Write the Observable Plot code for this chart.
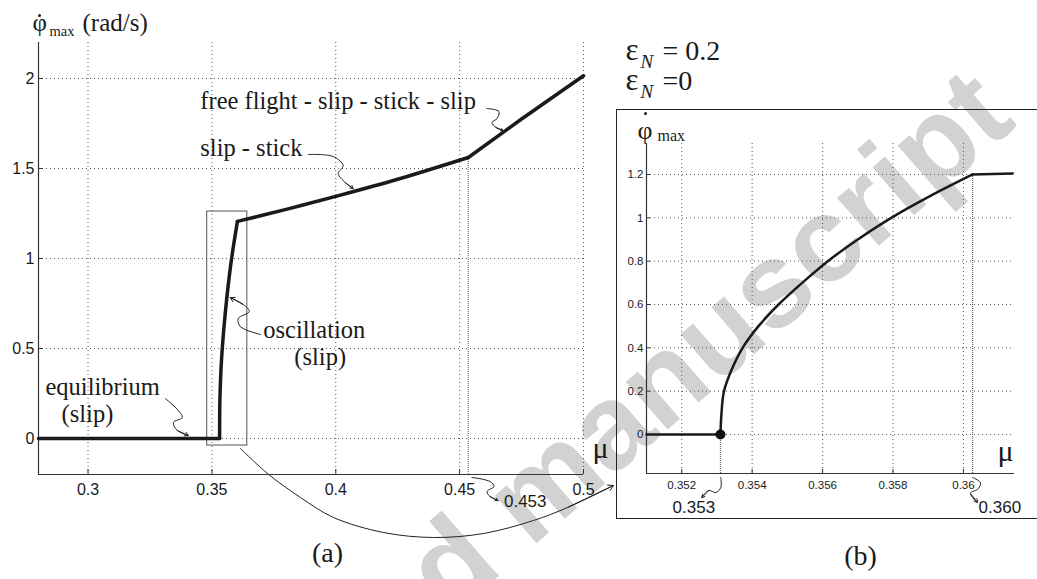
<!DOCTYPE html>
<html><head><meta charset="utf-8">
<script src="https://cdn.jsdelivr.net/npm/d3@7"></script>
<script src="https://cdn.jsdelivr.net/npm/@observablehq/plot@0.6"></script>
<style>
body{margin:0;background:#fff;}
#root{position:relative;width:1037px;height:579px;overflow:hidden;background:#fff;}
#root > svg, #root > div{position:absolute;}
</style></head><body><div id="root"></div>
<script>
// ---------- Panel (a) : phi_dot_max vs mu ----------
const muA  = [0.28, 0.3531, 0.35313, 0.3532, 0.35342, 0.35373, 0.35418, 0.35475, 0.35542, 0.35615, 0.357, 0.35795, 0.35905, 0.3603, 0.38, 0.40, 0.425, 0.4535, 0.475, 0.5];
const phiA = [0, 0, 0.1, 0.2, 0.3, 0.4, 0.5, 0.6, 0.7, 0.8, 0.9, 1.0, 1.1, 1.206, 1.273, 1.345, 1.44, 1.561, 1.775, 2.015];
// regime of each point: equilibrium / oscillation / slip-stick / free flight
const regimeA = ["eq", "eq", "osc", "osc", "osc", "osc", "osc", "osc", "osc", "osc", "osc", "osc", "osc", "osc", "stick", "stick", "stick", "stick", "flight", "flight"];
const xTicksA = [0.3, 0.35, 0.4, 0.45, 0.5];
const xLabelsA = ["0.3", "0.35", "0.4", "0.45", "0.5"];
const yTicksA = [0, 0.5, 1, 1.5, 2];
const yLabelsA = ["0", "0.5", "1", "1.5", "2"];
const markA = 0.4535;          // 0.453 transition
const boxA = {mu1: 0.3481, mu2: 0.3643, phi1: -0.039, phi2: 1.261};

// annotation labels of panel (a): [mu, phi, text]
const labelsStartA = [
  [0.34532, 1.8333, "free flight - slip - stick - slip"],
  [0.34532, 1.5667, "slip - stick"],
  [0.37073, 0.5611, "oscillation"],
  [0.28282, 0.2444, "equilibrium"]
];
const labelsMidA = [
  [0.39371, 0.4056, "(slip)"],
  [0.29976, 0.0889, "(slip)"]
];
// curly leader lines of panel (a): [mu, phi]
const curlFree  = [[0.46105,1.8333],[0.46589,1.8167],[0.46508,1.7778],[0.46306,1.7556],[0.46468,1.7278],[0.4675,1.7111]];
const curlStick = [[0.38887,1.5778],[0.39895,1.5667],[0.40298,1.5167],[0.40097,1.4722],[0.40379,1.4222],[0.40702,1.3889]];
const curlOsc   = [[0.36952,0.5778],[0.36145,0.6222],[0.36065,0.6667],[0.36508,0.7056],[0.36266,0.7444],[0.35742,0.7833]];
const curlEq    = [[0.33121,0.2222],[0.33645,0.1556],[0.33806,0.1167],[0.33444,0.0889],[0.33605,0.0444],[0.34048,0.0167]];
const curl453   = [[0.455,-0.2167],[0.46226,-0.2389],[0.46387,-0.2667],[0.46105,-0.2944],[0.46226,-0.3222],[0.46548,-0.3444]];
const label453  = [0.4679, -0.3833, "0.453"];

// ---------- Panel (b) : zoom of the onset ----------
const muB  = [0.351, 0.3531, 0.35313, 0.3532, 0.35342, 0.35373, 0.35418, 0.35475, 0.35542, 0.35615, 0.357, 0.35795, 0.35905, 0.36026, 0.3614];
const phiB = [0, 0, 0.1, 0.2, 0.3, 0.4, 0.5, 0.6, 0.7, 0.8, 0.9, 1.0, 1.1, 1.2, 1.205];
const regimeB = ["eq", "eq", "osc", "osc", "osc", "osc", "osc", "osc", "osc", "osc", "osc", "osc", "osc", "osc", "stick"];
const xTicksB = [0.352, 0.354, 0.356, 0.358, 0.36];
const xLabelsB = ["0.352", "0.354", "0.356", "0.358", "0.36"];
const yTicksB = [0, 0.2, 0.4, 0.6, 0.8, 1, 1.2];
const yLabelsB = ["0", "0.2", "0.4", "0.6", "0.8", "1", "1.2"];
const onsetB = 0.3531;
const lockB = 0.36026;
const curl353 = [[0.35311,-0.1984],[0.35311,-0.2446],[0.35297,-0.2677],[0.35277,-0.2584],[0.35257,-0.2907]];
const curl360 = [[0.36026,-0.1984],[0.36048,-0.2215],[0.36043,-0.2492],[0.3602,-0.2723],[0.3604,-0.3138]];
const label353 = [0.35174, -0.36, "0.353"];
const label360 = [0.36043, -0.36, "0.360"];

// ---------- figure-level decorations (pixel space) ----------
const arcPx = [[240,448],[267,473],[300,497],[333,517],[383,532],[433,537],[483,533],[533,520],[567,507],[613,485]];
const watermark = "Accepted manuscript";

const SANS = "'Liberation Sans', Arial, Helvetica, sans-serif";
const SERIF = "'Liberation Serif', 'Times New Roman', Times, serif";
const INK = "#1a1a1a";
const GRID = {stroke: "#555", strokeOpacity: 1, strokeWidth: 1, strokeDasharray: "1,3"};

function curl(pts, stroke = "#222") {
  const n = pts.length;
  return [
    Plot.line(pts, {x: d => d[0], y: d => d[1], curve: "catmull-rom", stroke, strokeWidth: 1}),
    Plot.arrow([0], {x1: () => pts[n-2][0], y1: () => pts[n-2][1], x2: () => pts[n-1][0], y2: () => pts[n-1][1],
      stroke, strokeWidth: 1, headLength: 8})
  ];
}
function txt(arr, opts) {
  return Plot.text(arr, {x: d => d[0], y: d => d[1], text: d => d[2], lineAnchor: "bottom", fill: INK, ...opts});
}
// split a curve into regime segments that share their end points
function segments(mu, phi, regime) {
  const out = [];
  let cur = null;
  mu.forEach((m, i) => {
    if (!cur || cur.name !== regime[i]) {
      const prev = cur ? cur.pts[cur.pts.length - 1] : null;
      cur = {name: regime[i], pts: prev ? [prev] : []};
      out.push(cur);
    }
    cur.pts.push({mu: m, phi: phi[i]});
  });
  return out;
}
function curveMarks(segs, width) {
  return segs.map(s => Plot.line(s.pts, {x: "mu", y: "phi", stroke: INK, strokeWidth: width,
    strokeLinejoin: "round", curve: s.name === "osc" || s.name === "stick" ? "catmull-rom" : "linear"}));
}

const root = document.getElementById("root");

// Layer 0: watermark, connecting arc and captions
const overlay = Plot.plot({
  width: 1037, height: 579, margin: 0,
  style: {background: "transparent", overflow: "visible"},
  x: {type: "identity", axis: null}, y: {type: "identity", axis: null},
  marks: [
    Plot.text([watermark], {x: 1018, y: 124, text: d => d, rotate: -41, textAnchor: "end", lineAnchor: "bottom",
      fontSize: 120, fontWeight: "bold", fontFamily: SANS, fill: "#d2d2d2"}),
    Plot.line(arcPx, {x: d => d[0], y: d => d[1], curve: "catmull-rom", stroke: "#222", strokeWidth: 1}),
    Plot.arrow([0], {x1: () => arcPx[arcPx.length-2][0], y1: () => arcPx[arcPx.length-2][1],
      x2: () => arcPx[arcPx.length-1][0], y2: () => arcPx[arcPx.length-1][1], stroke: "#222", strokeWidth: 1, headLength: 9}),
    Plot.text(["(a)"], {x: 327, y: 561, text: d => d, lineAnchor: "bottom", fontSize: 28, fontFamily: SERIF, fill: INK}),
    Plot.text(["(b)"], {x: 860, y: 564, text: d => d, lineAnchor: "bottom", fontSize: 28, fontFamily: SERIF, fill: INK}),
    // epsilon_N labels
    Plot.text(["ε", "ε"], {x: 625, y: (d, i) => [59, 89][i], text: d => d, textAnchor: "start", lineAnchor: "bottom", fontSize: 31, fontFamily: SERIF, fill: INK}),
    Plot.text(["N", "N"], {x: 640, y: (d, i) => [67, 97][i], text: d => d, textAnchor: "start", lineAnchor: "bottom", fontSize: 19, fontStyle: "italic", fontFamily: SERIF, fill: INK}),
    Plot.text(["= 0.2", "=0"], {x: 662, y: (d, i) => [59, 89][i], text: d => d, textAnchor: "start", lineAnchor: "bottom", fontSize: 28, fontFamily: SERIF, fill: INK})
  ]
});
overlay.style.left = "0px"; overlay.style.top = "0px";
root.appendChild(overlay);

// Layer 1: panel (a)
const plotA = Plot.plot({
  width: 610, height: 579,
  marginLeft: 38, marginRight: 27, marginTop: 42, marginBottom: 105,
  style: {background: "transparent", overflow: "visible"},
  x: {domain: [0.28, 0.5]},
  y: {domain: [-0.2, 2.2]},
  marks: [
    Plot.gridX(xTicksA, GRID),
    Plot.gridY(yTicksA, GRID),
    Plot.ruleX([markA], {y1: -0.2, y2: 1.561, stroke: "#777", strokeDasharray: "1,1", strokeWidth: 1.2}),
    Plot.rect([boxA], {x1: "mu1", x2: "mu2", y1: "phi1", y2: "phi2", fill: "none", stroke: "#555", strokeWidth: 1}),
    Plot.ruleX([0.28], {y1: -0.2, y2: 2.2, stroke: "#333", strokeWidth: 1.2}),
    Plot.ruleY([-0.2], {x1: 0.28, x2: 0.5, stroke: "#333", strokeWidth: 1.2}),
    Plot.axisX(xTicksA, {tickSize: -5, tickPadding: 14, tickFormat: d => xLabelsA[xTicksA.indexOf(d)], fontSize: 16, fontFamily: SANS, fill: INK, stroke: "#333", label: null}),
    Plot.axisY(yTicksA, {tickSize: -5, tickPadding: 9, tickFormat: d => yLabelsA[yTicksA.indexOf(d)], fontSize: 16, fontFamily: SANS, fill: INK, stroke: "#333", label: null}),
    ...curveMarks(segments(muA, phiA, regimeA), 3.5),
    txt(labelsStartA, {textAnchor: "start", fontSize: 24.5, fontFamily: SERIF}),
    txt(labelsMidA, {textAnchor: "middle", fontSize: 24.5, fontFamily: SERIF}),
    ...curl(curlFree), ...curl(curlStick), ...curl(curlOsc), ...curl(curlEq), ...curl(curl453),
    txt([label453], {textAnchor: "start", fontSize: 17, fontFamily: SANS}),
    // y label
    Plot.text(["φ"], {frameAnchor: "top-left", dx: -6, dy: -12, text: d => d, textAnchor: "start", lineAnchor: "bottom", fontSize: 25, fontFamily: SERIF, fill: INK}),
    Plot.dot([0], {frameAnchor: "top-left", dx: 1, dy: -27, r: 1.5, fill: INK, stroke: "none"}),
    Plot.text(["max"], {frameAnchor: "top-left", dx: 11, dy: -7, text: d => d, textAnchor: "start", lineAnchor: "bottom", fontSize: 14.5, fontFamily: SERIF, fill: INK}),
    Plot.text(["(rad/s)"], {frameAnchor: "top-left", dx: 44, dy: -12, text: d => d, textAnchor: "start", lineAnchor: "bottom", fontSize: 25, fontFamily: SERIF, fill: INK}),
    Plot.text(["μ"], {frameAnchor: "bottom-right", dx: 9, dy: -17, text: d => d, textAnchor: "start", lineAnchor: "bottom", fontSize: 30, fontFamily: SERIF, fill: INK})
  ]
});
plotA.style.left = "0px"; plotA.style.top = "0px";
root.appendChild(plotA);

// Layer 2: panel (b)
const boxB = document.createElement("div");
boxB.style.cssText = "left:616px;top:109px;width:430px;height:410px;box-sizing:border-box;border:1.5px solid #222;";
root.appendChild(boxB);
const plotB = Plot.plot({
  width: 421, height: 410,
  marginLeft: 30, marginRight: 23, marginTop: 34, marginBottom: 46,
  style: {background: "transparent", overflow: "visible"},
  x: {domain: [0.351, 0.36145]},
  y: {domain: [-0.18, 1.343]},
  marks: [
    Plot.gridX(xTicksB, GRID),
    Plot.gridY(yTicksB, GRID),
    Plot.ruleX([onsetB], {y1: -0.18, y2: 0, stroke: "#666", strokeDasharray: "1,1", strokeWidth: 1.2}),
    Plot.ruleX([lockB], {y1: -0.18, y2: 1.2, stroke: "#666", strokeDasharray: "1,1", strokeWidth: 1.2}),
    Plot.ruleX([0.351], {y1: -0.18, y2: 1.343, stroke: "#333", strokeWidth: 1.2}),
    Plot.ruleY([-0.18], {x1: 0.351, x2: 0.36145, stroke: "#333", strokeWidth: 1.2}),
    Plot.axisX(xTicksB, {tickSize: -4, tickPadding: 11, tickFormat: d => xLabelsB[xTicksB.indexOf(d)], fontSize: 11.5, fontFamily: SANS, fill: INK, stroke: "#333", label: null}),
    Plot.axisY(yTicksB, {tickSize: -4, tickPadding: 7, tickFormat: d => yLabelsB[yTicksB.indexOf(d)], fontSize: 11.5, fontFamily: SANS, fill: INK, stroke: "#333", label: null}),
    ...curveMarks(segments(muB, phiB, regimeB), 2.5),
    Plot.dot([[onsetB, 0]], {x: d => d[0], y: d => d[1], r: 5, fill: "#111"}),
    ...curl(curl353), ...curl(curl360),
    txt([label353, label360], {textAnchor: "start", fontSize: 17, fontFamily: SANS}),
    Plot.text(["φ"], {frameAnchor: "top-left", dx: -9, dy: -5, text: d => d, textAnchor: "start", lineAnchor: "bottom", fontSize: 26, fontFamily: SERIF, fill: INK}),
    Plot.dot([0], {frameAnchor: "top-left", dx: -1, dy: -30, r: 1.5, fill: INK, stroke: "none"}),
    Plot.text(["max"], {frameAnchor: "top-left", dx: 11, dy: -3, text: d => d, textAnchor: "start", lineAnchor: "bottom", fontSize: 16, fontFamily: SERIF, fill: INK}),
    Plot.text(["μ"], {frameAnchor: "bottom-right", dx: -17, dy: -13, text: d => d, textAnchor: "start", lineAnchor: "bottom", fontSize: 30, fontFamily: SERIF, fill: INK})
  ]
});
plotB.style.left = "616px"; plotB.style.top = "109px";
root.appendChild(plotB);
</script></body></html>
